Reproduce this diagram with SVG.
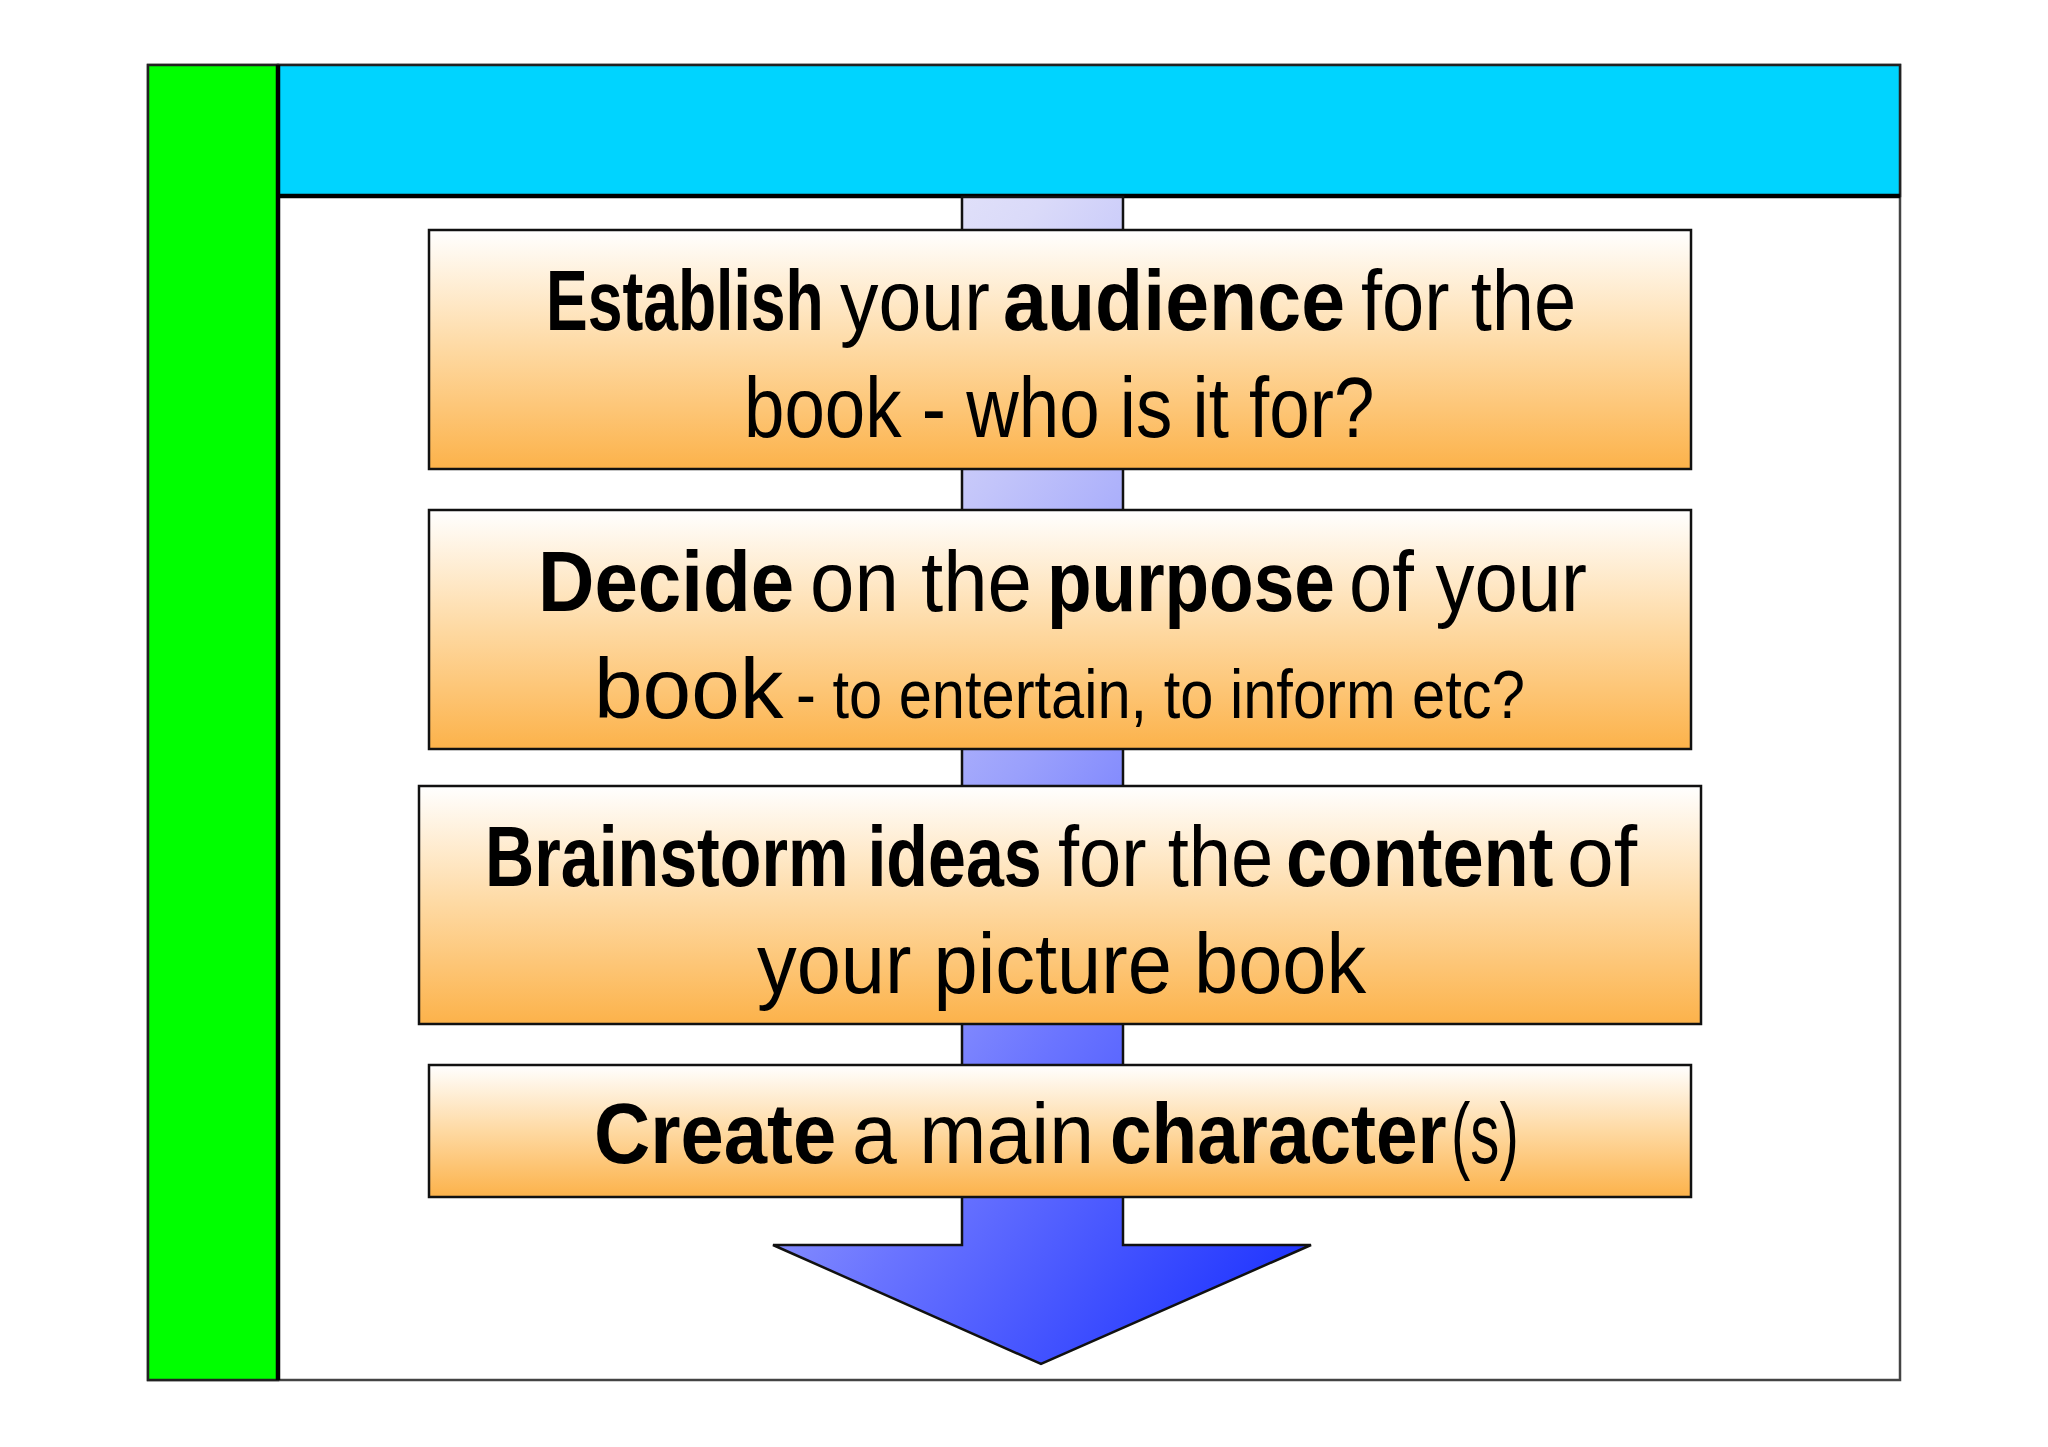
<svg xmlns="http://www.w3.org/2000/svg" width="2048" height="1447" viewBox="0 0 2048 1447">
<style>
.box{stroke:#111;stroke-width:2.5}
.t{font-family:"Liberation Sans",Arial,sans-serif;font-size:86px;fill:#000}
.b{font-weight:bold}
.s{font-size:68px}
</style>
<defs>
<linearGradient id="og" x1="0" y1="0" x2="0" y2="1">
<stop offset="0" stop-color="#ffffff"/>
<stop offset="0.5" stop-color="#fed9a2"/>
<stop offset="1" stop-color="#fcb24a"/>
</linearGradient>
<linearGradient id="bg" x1="0" y1="0" x2="0.706" y2="1.176">
<stop offset="0" stop-color="#ececfa"/>
<stop offset="0.19" stop-color="#dadaf9"/>
<stop offset="0.31" stop-color="#c2c4fa"/>
<stop offset="0.48" stop-color="#9aa0fc"/>
<stop offset="0.65" stop-color="#6a74ff"/>
<stop offset="0.94" stop-color="#2035ff"/>
<stop offset="1" stop-color="#1a30ff"/>
</linearGradient>
</defs>
<rect width="2048" height="1447" fill="#fff"/>
<g id="frame">
<rect x="148" y="65" width="1752" height="1315" fill="#fff" stroke="#444" stroke-width="2.5"/>
<rect x="148" y="65" width="130" height="1315" fill="#00ff00" stroke="#222" stroke-width="2.5"/>
<rect x="278" y="65" width="1622" height="131" fill="#00d4ff" stroke="#222" stroke-width="2.5"/>
<line x1="278" y1="65" x2="278" y2="1380" stroke="#000" stroke-width="4.5"/>
<line x1="278" y1="196" x2="1900" y2="196" stroke="#000" stroke-width="4.5"/>
</g>
<g id="connectors">
<polygon points="962,197 1123,197 1123,1245 1311,1245 1041,1364 773,1245 962,1245" fill="url(#bg)" stroke="#111" stroke-width="2.5" stroke-linejoin="miter"/>
</g>
<g id="node1">
<rect class="box" x="429" y="230" width="1262" height="239" fill="url(#og)"/>
<g transform="translate(546,330) scale(0.727,1)"><text class="t b" textLength="382" lengthAdjust="spacingAndGlyphs">Establish</text></g>
<g transform="translate(840,330) scale(0.897,1)"><text class="t" textLength="167" lengthAdjust="spacingAndGlyphs">your</text></g>
<g transform="translate(1003,330) scale(0.917,1)"><text class="t b" textLength="373" lengthAdjust="spacingAndGlyphs">audience</text></g>
<g transform="translate(1361,330) scale(0.882,1)"><text class="t" textLength="244" lengthAdjust="spacingAndGlyphs">for the</text></g>
<g transform="translate(744,437) scale(0.845,1)"><text class="t" textLength="746" lengthAdjust="spacingAndGlyphs">book - who is it for?</text></g>
</g>
<g id="node2">
<rect class="box" x="429" y="510" width="1262" height="239" fill="url(#og)"/>
<g transform="translate(538,611) scale(0.908,1)"><text class="t b" textLength="282" lengthAdjust="spacingAndGlyphs">Decide</text></g>
<g transform="translate(810,611) scale(0.929,1)"><text class="t" textLength="239" lengthAdjust="spacingAndGlyphs">on the</text></g>
<g transform="translate(1047,611) scale(0.849,1)"><text class="t b" textLength="339" lengthAdjust="spacingAndGlyphs">purpose</text></g>
<g transform="translate(1349,611) scale(0.905,1)"><text class="t" textLength="263" lengthAdjust="spacingAndGlyphs">of your</text></g>
<g transform="translate(594,718) scale(1.019,1)"><text class="t" textLength="186" lengthAdjust="spacingAndGlyphs">book</text></g>
<g transform="translate(796,718) scale(0.877,1)"><text class="t s" textLength="831" lengthAdjust="spacingAndGlyphs">- to entertain, to inform etc?</text></g>
</g>
<g id="node3">
<rect class="box" x="419" y="786" width="1282" height="238" fill="url(#og)"/>
<g transform="translate(485,886) scale(0.793,1)"><text class="t b" textLength="702" lengthAdjust="spacingAndGlyphs">Brainstorm ideas</text></g>
<g transform="translate(1058,886) scale(0.882,1)"><text class="t" textLength="244" lengthAdjust="spacingAndGlyphs">for the</text></g>
<g transform="translate(1286,886) scale(0.863,1)"><text class="t b" textLength="310" lengthAdjust="spacingAndGlyphs">content</text></g>
<g transform="translate(1567,886) scale(0.976,1)"><text class="t" textLength="72" lengthAdjust="spacingAndGlyphs">of</text></g>
<g transform="translate(757,993) scale(0.923,1)"><text class="t" textLength="660" lengthAdjust="spacingAndGlyphs">your picture book</text></g>
</g>
<g id="node4">
<rect class="box" x="429" y="1065" width="1262" height="132" fill="url(#og)"/>
<g transform="translate(594,1163) scale(0.904,1)"><text class="t b" textLength="268" lengthAdjust="spacingAndGlyphs">Create</text></g>
<g transform="translate(852,1163) scale(0.938,1)"><text class="t" textLength="258" lengthAdjust="spacingAndGlyphs">a main</text></g>
<g transform="translate(1110,1163) scale(0.870,1)"><text class="t b" textLength="387" lengthAdjust="spacingAndGlyphs">character</text></g>
<g transform="translate(1451,1163) scale(0.678,1)"><text class="t" textLength="100" lengthAdjust="spacingAndGlyphs">(s)</text></g>
</g>
</svg>
